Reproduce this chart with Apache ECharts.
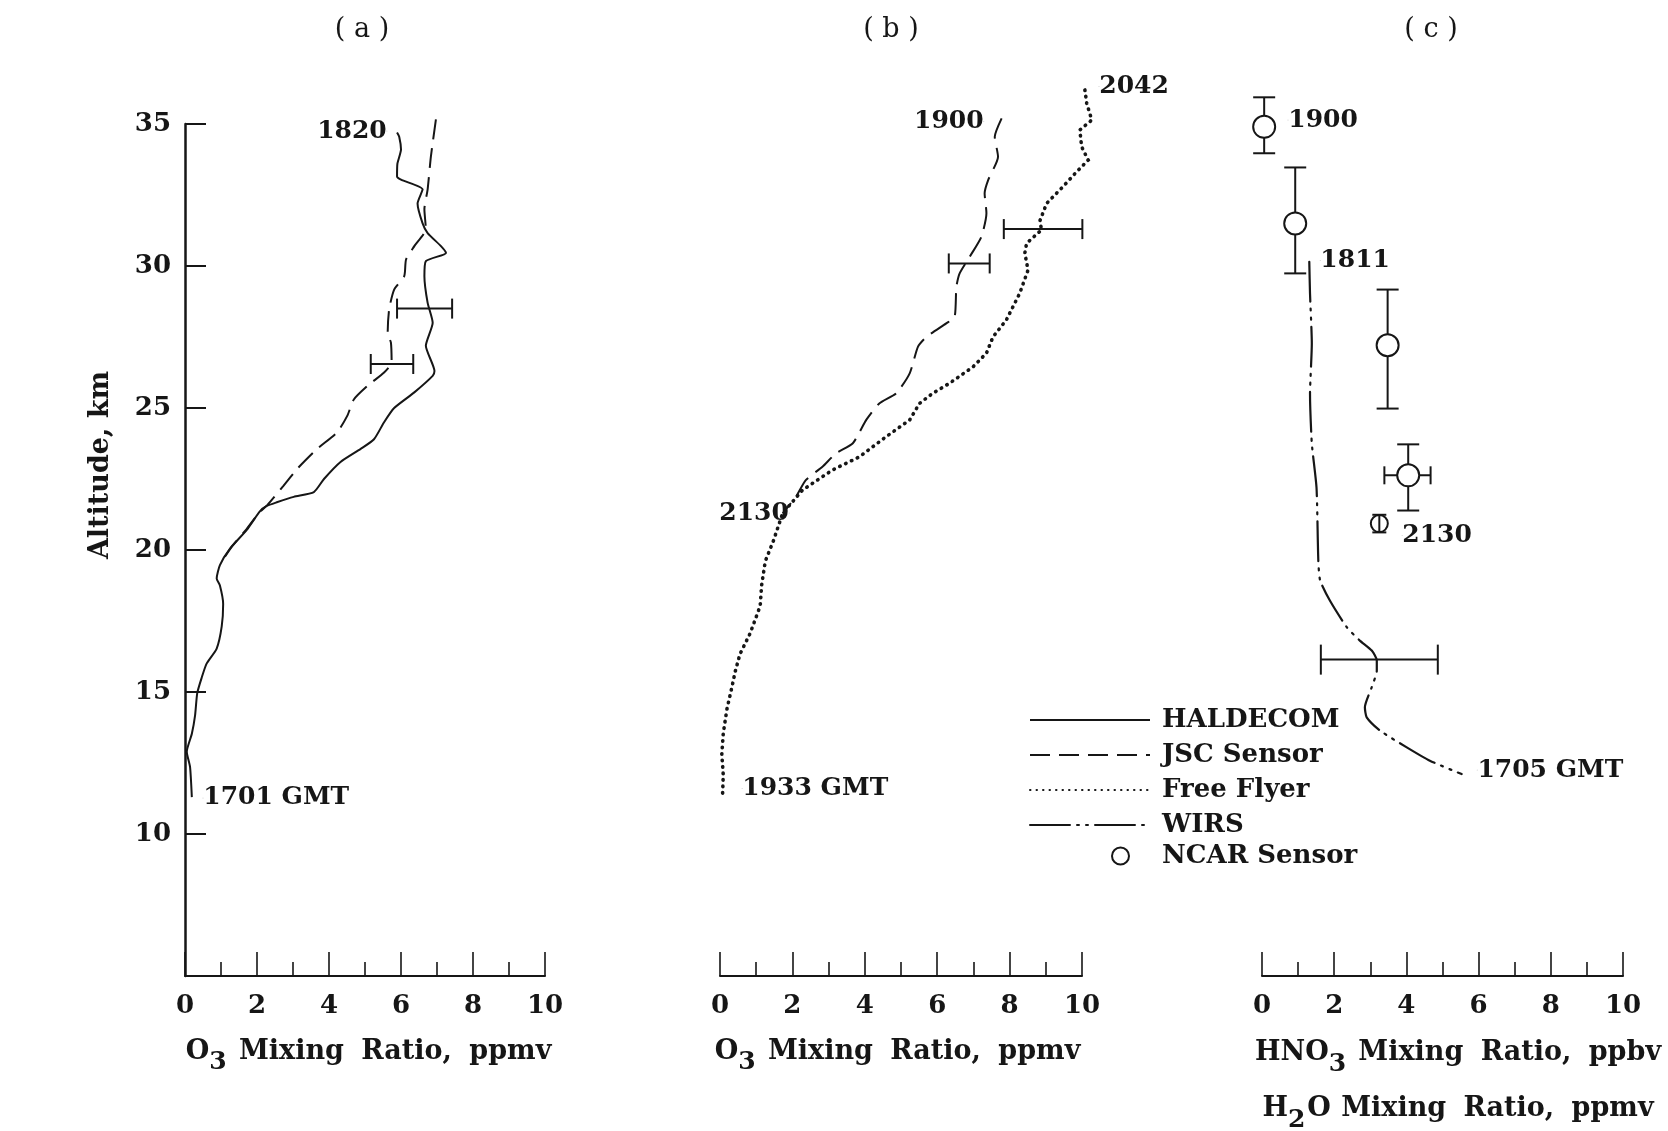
<!DOCTYPE html>
<html><head><meta charset="utf-8">
<script src="https://cdn.jsdelivr.net/npm/echarts@6/dist/echarts.min.js"></script>
<style>html,body{margin:0;padding:0;background:#fff}#c{width:1668px;height:1131px}</style>
</head><body><div id="c"></div><script>
const INK = '#161616';
const FONT = 'DejaVu Serif';

// ---- data: [mixing ratio, altitude km] ----
const haldecomA = [[5.89,34.7],[5.95,34.55],[6.0,34.1],[5.9,33.6],[5.89,33.15],[6.0,33.04],[6.6,32.7],[6.46,32.2],[6.6,31.5],[6.74,31.16],[7.11,30.7],[7.25,30.46],[6.69,30.17],[6.65,29.64],[6.74,28.7],[6.88,28.0],[6.69,27.19],[6.93,26.3],[6.88,26.13],[6.37,25.55],[5.81,25.0],[5.53,24.5],[5.25,23.9],[4.88,23.56],[4.32,23.1],[3.86,22.5],[3.58,22.04],[3.02,21.87],[2.55,21.68],[2.27,21.55],[2.08,21.36],[1.71,20.7],[1.25,20.05],[0.97,19.47],[0.88,19.0],[0.97,18.75],[1.06,18.1],[1.02,17.31],[0.88,16.53],[0.6,16.0],[0.46,15.49],[0.34,14.96],[0.28,14.18],[0.19,13.53],[0.05,12.9],[0.14,12.36],[0.19,11.3]];
const jscA = [[6.97,35.16],[6.83,33.85],[6.74,32.7],[6.65,32.0],[6.69,31.3],[6.37,30.7],[6.14,30.23],[6.09,29.64],[5.81,29.17],[5.67,28.47],[5.63,27.65],[5.72,27.3],[5.74,26.6],[5.53,26.25],[5.07,25.78],[4.69,25.3],[4.51,24.73],[4.23,24.15],[3.67,23.56],[3.12,22.86],[2.74,22.27],[2.28,21.57],[2.05,21.3],[1.7,20.72],[1.3,20.12],[1.0,19.55]];
const jscB = [[7.78,35.2],[7.59,34.55],[7.68,33.85],[7.41,33.03],[7.31,32.56],[7.36,31.86],[7.22,31.03],[6.9,30.33],[6.62,29.74],[6.53,29.27],[6.48,28.2],[6.25,27.98],[5.7,27.5],[5.47,27.16],[5.24,26.22],[4.87,25.52],[4.4,25.16],[4.04,24.58],[3.67,23.76],[3.2,23.4],[2.83,22.93],[2.37,22.46],[2.1,21.88],[1.73,21.29]];
const freeFlyerB = [[10.08,36.2],[10.13,35.73],[10.27,35.14],[9.94,34.79],[9.99,34.2],[10.17,33.73],[9.81,33.26],[9.48,32.8],[9.02,32.2],[8.84,31.6],[8.88,31.27],[8.47,30.8],[8.42,30.45],[8.51,29.86],[8.28,29.04],[7.91,28.1],[7.54,27.5],[7.36,26.93],[6.99,26.45],[6.34,25.87],[5.88,25.52],[5.51,25.16],[5.24,24.58],[4.59,23.99],[3.85,23.28],[3.11,22.82],[2.28,22.11],[1.73,21.29],[1.48,20.34],[1.25,19.6],[1.15,18.76],[1.11,18.03],[0.97,17.54],[0.83,17.06],[0.55,16.33],[0.42,15.72],[0.32,15.12],[0.19,14.39],[0.09,13.54],[0.05,12.81],[0.09,12.08],[0.07,11.35]];
const wirsC = [[1.31,30.15],[1.33,29.03],[1.38,27.27],[1.33,25.5],[1.38,23.75],[1.51,22.2],[1.56,19.63],[1.61,18.93],[1.88,18.22],[2.35,17.28],[2.71,16.81],[3.04,16.46],[3.18,16.11],[3.18,15.75],[3.04,15.17],[2.85,14.46],[2.9,14.11],[3.27,13.64],[4.01,13.05],[4.65,12.58],[5.53,12.11]];
const ncarC = [[0.06,34.9],[0.92,31.5],[3.48,27.21],[4.05,22.63],[3.25,20.93]];
// error bars: vertical [x, altLow, altHigh]; horizontal [alt, xLow, xHigh]
const ncarAltErr = [[0.06,33.97,35.94],[0.92,29.74,33.47],[3.48,24.98,29.17],[4.05,21.39,23.72]];
const ncarXErr = [[22.63,3.39,4.67]];
const ncarSmallErr = [[3.25,20.62,21.24]];
const o3ErrA = [[28.5,5.89,7.42],[26.55,5.16,6.34]];
const o3ErrB = [[31.3,7.84,10.01],[30.09,6.32,7.45]];
const wirsErrC = [[16.14,1.63,4.87]];
// time labels: [x, alt, text, side]
const labelsA = [[5.61,34.75,'1820','left'],[0.5,11.27,'1701 GMT','right']];
const labelsB = [[7.29,35.1,'1900','left'],[10.47,36.33,'2042','right'],[1.91,21.3,'2130','left'],[0.61,11.59,'1933 GMT','right']];
const labelsC = [[0.72,35.14,'1900','right'],[1.61,30.2,'1811','right'],[3.88,20.5,'2130','right'],[5.96,12.25,'1705 GMT','right']];
const altTicks = [10,15,20,25,30,35];
const panelTitles = ['( a )','( b )','( c )'];

const chart = echarts.init(document.getElementById('c'), null, {renderer:'canvas'});

const txt = {fontFamily: FONT, color: INK};
const rich = {
  c: {fontFamily: FONT, fontWeight: 'bold', fontSize: 27, color: INK},
  w: {fontFamily: FONT, fontWeight: 'bold', fontSize: 27, color: INK, padding: [0, 7, 0, 7]},
  s: {fontFamily: FONT, fontWeight: 'bold', fontSize: 25, color: INK, padding: [22, 2, 0, 0]}
};

function xAxisCfg(idx, name, nameGap, padLeft) {
  return {
    gridIndex: idx, type: 'value', min: 0, max: 10, interval: 2,
    axisLine: {lineStyle: {color: INK, width: 2}},
    axisTick: {inside: true, length: 24, lineStyle: {color: INK, width: 1.6}},
    minorTick: {show: true, splitNumber: 2, length: 14, lineStyle: {color: INK, width: 1.6}},
    splitLine: {show: false}, minorSplitLine: {show: false},
    axisLabel: Object.assign({fontSize: 26, fontWeight: 'bold', margin: 17}, txt),
    name: name, nameLocation: 'middle', nameGap: nameGap,
    nameTextStyle: {rich: rich, padding: [0, 0, 0, padLeft || 0], lineHeight: 56}
  };
}

function errBar(horizontal, cap, width) {
  return function (params, api) {
    const f = api.value(0), lo = api.value(1), hi = api.value(2);
    const a = horizontal ? api.coord([lo, f]) : api.coord([f, lo]);
    const b = horizontal ? api.coord([hi, f]) : api.coord([f, hi]);
    const st = {stroke: INK, lineWidth: width};
    const kids = [{type: 'line', shape: {x1: a[0], y1: a[1], x2: b[0], y2: b[1]}, style: st}];
    [a, b].forEach(function (p) {
      kids.push({type: 'line', shape: horizontal ?
        {x1: p[0], y1: p[1] - cap, x2: p[0], y2: p[1] + cap} :
        {x1: p[0] - cap, y1: p[1], x2: p[0] + cap, y2: p[1]}, style: st});
    });
    return {type: 'group', children: kids};
  };
}
function errSeries(idx, data, horizontal, cap, z) {
  return {type: 'custom', xAxisIndex: idx, yAxisIndex: idx, data: data, silent: true, z: z || 3,
    encode: horizontal ? {x: [1, 2], y: 0} : {x: 0, y: [1, 2]},
    renderItem: errBar(horizontal, cap, 2), clip: false};
}
function labelSeries(idx, arr) {
  return {type: 'scatter', xAxisIndex: idx, yAxisIndex: idx, silent: true, clip: false,
    symbolSize: 0.5, itemStyle: {color: INK, opacity: 1}, z: 6,
    data: arr.map(function (r) {
      return {value: [r[0], r[1]], name: r[2],
        label: {show: true, position: r[3], distance: 0, formatter: '{b}', opacity: 1,
          fontFamily: FONT, fontWeight: 'bold', fontSize: 25, color: INK}};
    })};
}
function lineSeries(name, idx, data, style, smooth) {
  return {type: 'line', name: name, xAxisIndex: idx, yAxisIndex: idx, data: data,
    symbol: 'none', showSymbol: false, smooth: smooth, clip: false, z: 4,
    itemStyle: {color: INK},
    lineStyle: Object.assign({color: INK, width: 2}, style)};
}
// profile drawn as one polyline through the axis scales (not clipped at x = 10)
function profileSeries(idx, data, style) {
  return {type: 'custom', xAxisIndex: idx, yAxisIndex: idx, data: data, silent: true, z: 4, clip: false,
    encode: {x: 0, y: 1},
    renderItem: function (params, api) {
      if (params.dataIndex !== 0) return null;
      const pts = data.map(function (p) { return api.coord(p); });
      return {type: 'polyline', shape: {points: pts}, style: Object.assign({fill: null, stroke: INK}, style)};
    }};
}

const legendText = {fontFamily: FONT, fontWeight: 'bold', fontSize: 26, color: INK, lineHeight: 30};
const dotStyle = {type: [0.5, 6], width: 3.6, cap: 'round'};
const option = {
  backgroundColor: '#fff',
  animation: false,
  grid: [
    {left: 185, top: 124, width: 360, height: 852, outerBoundsMode: 'none', containLabel: false},
    {left: 720, top: 81.4, width: 362, height: 894.6, outerBoundsMode: 'none', containLabel: false},
    {left: 1262, top: 81.4, width: 361, height: 894.6, outerBoundsMode: 'none', containLabel: false}
  ],
  xAxis: [
    xAxisCfg(0, '{c|O}{s|3} {w|Mixing} {w|Ratio,} {w|ppmv}', 40, 14),
    xAxisCfg(1, '{c|O}{s|3} {w|Mixing} {w|Ratio,} {w|ppmv}', 40, 0),
    xAxisCfg(2, '{c|HNO}{s|3} {w|Mixing} {w|Ratio,} {w|ppbv}\n{c|H}{s|2}{c|O} {w|Mixing} {w|Ratio,} {w|ppmv}', 49, 38)
  ],
  yAxis: [
    {gridIndex: 0, type: 'value', min: 5, max: 35,
      axisLine: {show: true, lineStyle: {color: INK, width: 2.5}},
      axisTick: {inside: true, length: 21, customValues: altTicks, lineStyle: {color: INK, width: 2}},
      axisLabel: Object.assign({fontSize: 26, fontWeight: 'bold', margin: 14, customValues: altTicks}, txt),
      splitLine: {show: false}},
    {gridIndex: 1, type: 'value', min: 5, max: 36.5, show: false},
    {gridIndex: 2, type: 'value', min: 5, max: 36.5, show: false}
  ],
  legend: [
    {data: ['HALDECOM', 'JSC Sensor', 'Free Flyer', 'WIRS'], orient: 'vertical', left: 1024, top: 700,
      itemWidth: 120, itemHeight: 14, itemGap: 5, selectedMode: false,
      itemStyle: {opacity: 0}, lineStyle: {color: INK},
      textStyle: Object.assign({padding: [0, 0, 0, 7]}, legendText)},
    {data: ['NCAR Sensor'], orient: 'vertical', left: 1106, top: 836,
      itemWidth: 17, itemHeight: 17, selectedMode: false,
      textStyle: Object.assign({padding: [0, 0, 0, 28]}, legendText)}
  ],
  graphic: [
    {type: 'text', x: 362, y: 30, style: {text: panelTitles[0], textAlign: 'center', textVerticalAlign: 'middle', fill: INK, font: '27px "DejaVu Serif"'}},
    {type: 'text', x: 891, y: 30, style: {text: panelTitles[1], textAlign: 'center', textVerticalAlign: 'middle', fill: INK, font: '27px "DejaVu Serif"'}},
    {type: 'text', x: 1431, y: 30, style: {text: panelTitles[2], textAlign: 'center', textVerticalAlign: 'middle', fill: INK, font: '27px "DejaVu Serif"'}},
    {type: 'text', x: 101, y: 465, rotation: Math.PI / 2, style: {text: 'Altitude, km', textAlign: 'center', textVerticalAlign: 'middle', fill: INK, font: 'bold 27px "DejaVu Serif"'}}
  ],
  series: [
    lineSeries('HALDECOM', 0, haldecomA, {type: 'solid'}, 0.2),
    lineSeries('JSC Sensor', 0, jscA, {type: [20, 9]}, 0.2),
    lineSeries('JSC Sensor', 1, jscB, {type: [22, 9]}, 0.2),
    // legend entry for the Free Flyer profile (the profile itself is drawn by the custom series below)
    lineSeries('Free Flyer', 1, [], dotStyle, false),
    profileSeries(1, freeFlyerB, {lineWidth: 3.6, lineDash: [0.5, 6], lineCap: 'round'}),
    lineSeries('WIRS', 2, wirsC, {type: [40, 7, 2, 7, 2, 7], width: 2.2, cap: 'round'}, 0.2),
    errSeries(0, o3ErrA, true, 10),
    errSeries(1, o3ErrB, true, 10),
    errSeries(2, wirsErrC, true, 15),
    errSeries(2, ncarAltErr, false, 11),
    errSeries(2, ncarXErr, true, 9),
    {type: 'scatter', name: 'NCAR Sensor', xAxisIndex: 2, yAxisIndex: 2, z: 5,
      symbol: 'circle', symbolSize: 22, clip: false,
      data: ncarC.map(function (p, i) { return i === 4 ? {value: p, symbolSize: 17} : p; }),
      itemStyle: {color: '#fff', borderColor: INK, borderWidth: 2, opacity: 1}},
    errSeries(2, ncarSmallErr, false, 7, 7),
    labelSeries(0, labelsA),
    labelSeries(1, labelsB),
    labelSeries(2, labelsC)
  ]
};
chart.setOption(option);
</script></body></html>
